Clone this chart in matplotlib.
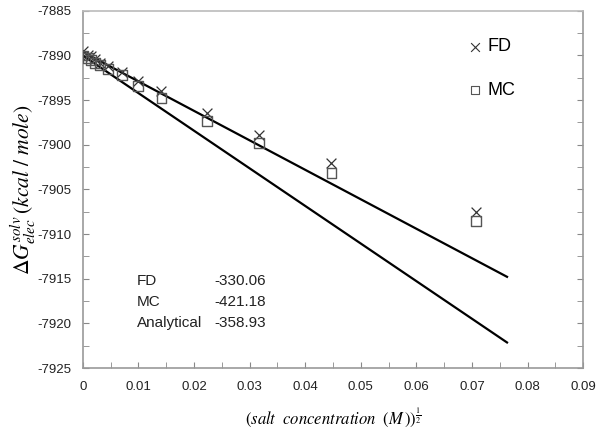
import matplotlib
matplotlib.use("Agg")
import matplotlib.pyplot as plt
import numpy as np

plt.rcParams['font.family'] = ['Liberation Sans', 'DejaVu Sans']
plt.rcParams['mathtext.fontset'] = 'stix'
plt.rcParams['axes.unicode_minus'] = False

x_vals = [0, 0.001, 0.00141, 0.00224, 0.00316, 0.00447, 0.00707, 0.01, 0.01414,
          0.02236, 0.03162, 0.04472, 0.07071]
fd_vals = [-7889.5, -7889.9, -7890.1, -7890.4, -7890.8, -7891.2, -7891.9, -7892.9,
           -7894.0, -7896.4, -7898.9, -7902.0, -7907.5]
mc_vals = [-7890.0, -7890.3, -7890.5, -7890.8, -7891.1, -7891.5, -7892.2, -7893.4,
           -7894.8, -7897.3, -7899.8, -7903.2, -7908.5]

fit_x = [0.0, 0.0763]
fd_intercept, fd_slope = -7889.6, -330.06
mc_intercept, mc_slope = -7890.0, -421.18

labels = ["FD", "MC", "Analytical"]
slopes = ["-330.06", "-421.18", "-358.93"]

fig = plt.figure(figsize=(6.0, 4.33), dpi=100)
ax = fig.add_axes([0.138, 0.150, 0.834, 0.825])

fx = np.array(fit_x)
ax.plot(fx, fd_intercept + fd_slope * fx, color='black', lw=1.6, zorder=2)
ax.plot(fx, mc_intercept + mc_slope * fx, color='black', lw=1.6, zorder=2)

ax.scatter(x_vals, fd_vals, marker='x', s=50, color='#333333', linewidths=0.9, zorder=3)
ax.scatter(x_vals, mc_vals, marker='s', s=50, facecolors='none', edgecolors='#555555',
           linewidths=1.0, zorder=3)

ax.set_xlim(0, 0.09)
ax.set_ylim(-7925, -7885)
ax.set_xticks(np.arange(0, 0.0901, 0.01))
ax.set_xticklabels(['0'] + [f'{v:.2f}' for v in np.arange(0.01, 0.0901, 0.01)])
ax.set_yticks(np.arange(-7925, -7884, 5))
ax.set_xticks(np.arange(0, 0.0901, 0.005), minor=True)
ax.set_yticks(np.arange(-7925, -7884, 2.5), minor=True)
ax.tick_params(which='both', direction='in', length=4, color='#888888',
               labelsize=9.5, labelcolor='#222222', right=True, top=False)
ax.tick_params(axis='x', pad=9)
ax.tick_params(axis='y', pad=8)
for s in ax.spines.values():
    s.set_color('#999999')
    s.set_linewidth(1.2)
ax.spines['top'].set_color('#bbbbbb')

# legend
ax.scatter([0.0705], [-7889.0], marker='x', s=40, color='#333333', linewidths=0.8)
ax.text(0.0727, -7889.0, 'FD', fontsize=13, va='center', ha='left')
ax.scatter([0.0705], [-7893.9], marker='s', s=35, facecolors='none',
           edgecolors='#555555', linewidths=0.8)
ax.text(0.0727, -7893.9, 'MC', fontsize=13, va='center', ha='left')

# slope annotations
ys = [-7915.2, -7917.6, -7920.0]
for lab, sl, yy in zip(labels, slopes, ys):
    ax.text(0.0097, yy, lab, fontsize=11, va='center', ha='left', color='#222222')
    ax.text(0.0330, yy, sl, fontsize=11, va='center', ha='right', color='#222222')

ax.set_xlabel(r'$(salt\ \ concentration\ \ (M\,))^{\frac{1}{2}}$', fontsize=12, labelpad=10)
ax.set_ylabel(r'$\Delta G_{elec}^{solv}\,(kcal\ /\ mole)$', fontsize=15.5, labelpad=0)

fig.savefig('out.png', dpi=100)
